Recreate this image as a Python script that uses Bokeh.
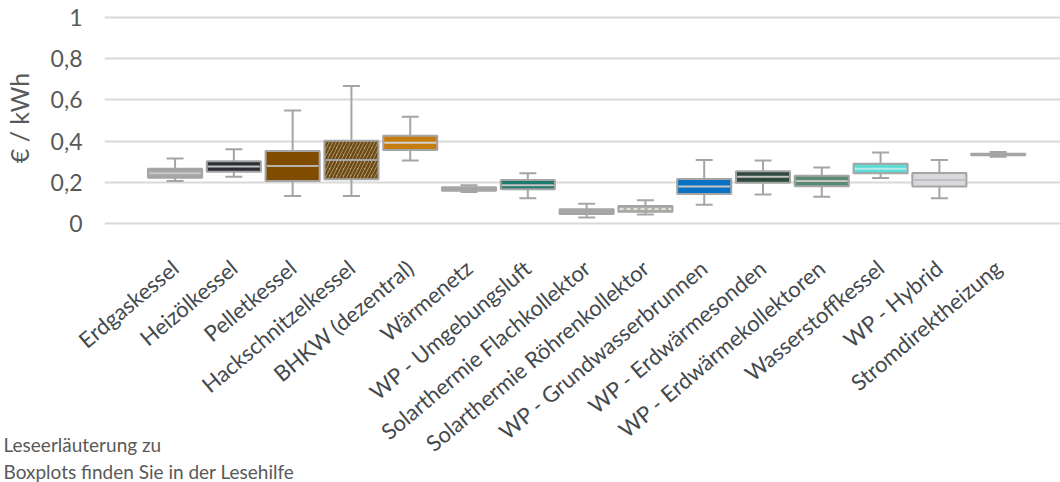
import numpy as np
from bokeh.plotting import figure
from bokeh.models import Range1d, FixedTicker, CustomJSTickFormatter, Title, ColumnDataSource, CDSView, IndexFilter
from bokeh.embed import file_html
from bokeh.resources import INLINE

categories = ["Erdgaskessel", "Heizölkessel", "Pelletkessel", "Hackschnitzelkessel",
              "BHKW (dezentral)", "Wärmenetz", "WP - Umgebungsluft",
              "Solarthermie Flachkollektor", "Solarthermie Röhrenkollektor",
              "WP - Grundwasserbrunnen", "WP - Erdwärmesonden", "WP - Erdwärmekollektoren",
              "Wasserstoffkessel", "WP - Hybrid", "Stromdirektheizung"]
whisker_low = [0.206, 0.227, 0.133, 0.133, 0.305, 0.153, 0.122, 0.028, 0.043, 0.090, 0.140, 0.130, 0.221, 0.122, 0.324]
q1 =          [0.222, 0.251, 0.206, 0.214, 0.357, 0.159, 0.166, 0.045, 0.057, 0.143, 0.198, 0.181, 0.244, 0.179, 0.331]
median =      [0.244, 0.276, 0.279, 0.308, 0.392, 0.168, 0.185, 0.057, 0.070, 0.179, 0.226, 0.206, 0.266, 0.211, 0.335]
q3 =          [0.266, 0.302, 0.352, 0.402, 0.426, 0.176, 0.211, 0.069, 0.085, 0.216, 0.253, 0.231, 0.290, 0.245, 0.338]
whisker_high = [0.315, 0.360, 0.548, 0.667, 0.518, 0.185, 0.244, 0.095, 0.113, 0.308, 0.305, 0.271, 0.344, 0.308, 0.347]
box_colors = ["#a6a6a6", "#2b2f33", "#7f4c00", "#b9a88a", "#c77c10", "#a6a6a6", "#1f7a6e",
              "#a6a6a6", "#b1afa6", "#0a72c2", "#2e4a3c", "#5b8a73", "#5ddbd6", "#d8d9dc", "#a6a6a6"]
median_colors = ["#c8c8c8", "#c4c4c4", "#b9b3aa", "#a5a5a5", "#d0d0d0", "#a6a6a6", "#c4c4c4",
                 "#a6a6a6", "#b1afa6", "#c4c4c4", "#c4c4c4", "#c4c4c4", "#b8ecea", "#bfbfbf", "#a6a6a6"]
hatches = [" ", " ", " ", "/", " ", " ", " ", " ", " ", " ", " ", " ", " ", " ", " "]
dashed_median = [8]
y_ticks = [0, 0.2, 0.4, 0.6, 0.8, 1.0]
note_text = "Leseerläuterung zu\nBoxplots finden Sie in der Lesehilfe"

FONT = "Lato"
TXT = "#595959"
EDGE = "#a5a5a5"

xs = np.arange(len(categories), dtype=float)
BOXW = 0.92

src = ColumnDataSource(dict(x=xs, lo=whisker_low, q1=q1, med=median, q3=q3, hi=whisker_high,
                            color=box_colors, mcolor=median_colors, hatch=hatches,
                            mx0=xs - BOXW / 2 + 0.02, mx1=xs + BOXW / 2 - 0.02))

p = figure(width=1060, height=482, output_backend="svg", toolbar_location=None,
           x_range=Range1d(-1.2, 15.06), y_range=Range1d(-0.02, 1.044),
           min_border_left=101, min_border_right=0, min_border_top=8, min_border_bottom=255)
p.outline_line_color = None
p.xgrid.grid_line_color = None
p.ygrid.grid_line_color = "#d9d9d9"
p.ygrid.grid_line_width = 2
p.ygrid.ticker = FixedTicker(ticks=y_ticks)

# whiskers
p.segment(x0="x", y0="q3", x1="x", y1="hi", source=src, line_color=EDGE, line_width=2)
p.segment(x0="x", y0="lo", x1="x", y1="q1", source=src, line_color=EDGE, line_width=2)
p.dash(x="x", y="hi", source=src, size=17, line_color=EDGE, line_width=2)
p.dash(x="x", y="lo", source=src, size=17, line_color=EDGE, line_width=2)
# boxes
p.vbar(x="x", width=BOXW, bottom="q1", top="q3", source=src, fill_color="color",
       line_color=EDGE, line_width=2, hatch_pattern="hatch", hatch_color="#6e4a14",
       hatch_weight=2.5, hatch_scale=7)
# medians
p.segment(x0="mx0", y0="med", x1="mx1", y1="med", source=src, line_color="mcolor", line_width=2)
p.segment(x0="mx0", y0="med", x1="mx1", y1="med", source=src,
          view=CDSView(filter=IndexFilter(dashed_median)),
          line_color="#f2f2f2", line_width=1.5, line_dash="4 3")

# y axis
ya = p.yaxis[0]
ya.ticker = FixedTicker(ticks=y_ticks)
ya.formatter = CustomJSTickFormatter(code="const s = (Math.round(tick*10)/10).toString(); return s.replace('.', ',');")
ya.axis_line_color = None
ya.major_tick_line_color = None
ya.minor_tick_line_color = None
ya.major_label_standoff = 16
ya.major_label_text_font = FONT
ya.major_label_text_font_size = "23px"
ya.major_label_text_color = TXT
ya.axis_label = "€ / kWh"
ya.axis_label_text_font = FONT
ya.axis_label_text_font_size = "25px"
ya.axis_label_text_font_style = "normal"
ya.axis_label_text_color = TXT
ya.axis_label_standoff = 14

# x axis
xa = p.xaxis[0]
shift = 0.0
xa.ticker = FixedTicker(ticks=list(xs - shift))
xa.formatter = CustomJSTickFormatter(args=dict(labels=categories, shift=shift),
                                     code="return labels[Math.round(tick + shift)];")
xa.axis_line_color = None
xa.major_tick_line_color = None
xa.minor_tick_line_color = None
xa.major_label_orientation = 40 * np.pi / 180
xa.major_label_standoff = 31
xa.major_label_text_font = FONT
xa.major_label_text_font_size = "22px"
xa.major_label_text_color = "#44494d"

p.add_layout(Title(text=note_text, align="left", vertical_align="top", offset=-101, standoff=-74,
                   text_font=FONT, text_font_size="19px", text_font_style="normal",
                   text_color=TXT, text_line_height=1.2), "below")

open("out.html", "w").write(file_html(p, INLINE))
